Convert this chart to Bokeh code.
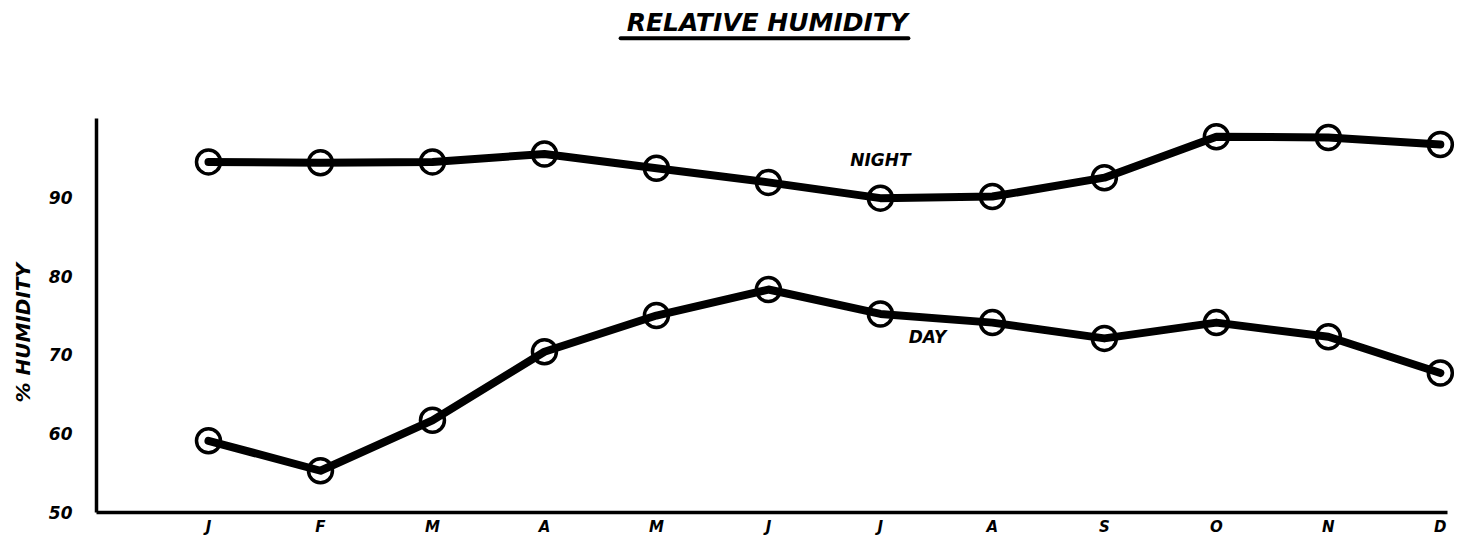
from bokeh.plotting import figure
from bokeh.models import FixedTicker, Label, Title, Range1d
from bokeh.embed import file_html
from bokeh.resources import INLINE

# ---- data ----
month_labels = ["J", "F", "M", "A", "M", "J", "J", "A", "S", "O", "N", "D"]
month_pos = [1, 2, 3, 4, 5, 6, 7, 8, 9, 10, 11, 12]
night = [94.5, 94.4, 94.5, 95.5, 93.7, 91.9, 89.9, 90.1, 92.5, 97.7, 97.6, 96.7]
day = [59.1, 55.3, 61.7, 70.4, 75.0, 78.3, 75.2, 74.1, 72.1, 74.1, 72.3, 67.7]
y_ticks = [50, 60, 70, 80, 90]

FONT = "DejaVu Sans"

p = figure(width=1468, height=538, output_backend="svg", toolbar_location=None,
           x_range=Range1d(0, 12.18), y_range=Range1d(50, 113.97),
           min_border_left=96, min_border_right=8, min_border_top=8,
           min_border_bottom=23)
p.outline_line_color = None
p.grid.visible = False
p.background_fill_color = "white"
p.border_fill_color = "white"

# x axis
xa = p.xaxis[0]
xa.ticker = FixedTicker(ticks=month_pos)
xa.major_label_overrides = {m: lab for m, lab in zip(month_pos, month_labels)}
xa.major_tick_line_color = None
xa.minor_tick_line_color = None
xa.major_tick_out = 0
xa.major_tick_in = 0
xa.major_label_standoff = 5
xa.axis_line_width = 3.5
xa.axis_line_color = "black"
xa.bounds = (0, 12.06)
xa.major_label_text_font = FONT
xa.major_label_text_font_style = "bold italic"
xa.major_label_text_font_size = "15px"
xa.major_label_text_color = "black"

# y axis
ya = p.yaxis[0]
ya.ticker = FixedTicker(ticks=y_ticks)
ya.major_tick_line_color = None
ya.minor_tick_line_color = None
ya.major_tick_out = 0
ya.major_tick_in = 0
ya.major_label_standoff = 24
ya.axis_line_width = 3.5
ya.axis_line_color = "black"
ya.bounds = (50, 100)
ya.major_label_text_font = FONT
ya.major_label_text_font_style = "bold italic"
ya.major_label_text_font_size = "17px"
ya.major_label_text_color = "black"

# y label as a side title
ylab = Title(text="% HUMIDITY", align="left", vertical_align="top", offset=110,
             standoff=18, text_font=FONT, text_font_style="bold italic",
             text_font_size="20px", text_color="black")
p.add_layout(ylab, "left")

# series
for vals in (night, day):
    p.line(month_pos, vals, line_width=8, line_color="black",
           line_join="round", line_cap="round")
    p.scatter(month_pos, vals, size=24, marker="circle", fill_alpha=0,
              line_color="black", line_width=3.5)

# labels
p.add_layout(Label(x=7.0, y=94.8, text="NIGHT", text_align="center",
                   text_baseline="middle", text_font=FONT,
                   text_font_style="bold italic", text_font_size="17px",
                   text_color="black"))
p.add_layout(Label(x=7.42, y=72.3, text="DAY", text_align="center",
                   text_baseline="middle", text_font=FONT,
                   text_font_style="bold italic", text_font_size="17px",
                   text_color="black"))

# chart title with underline
p.add_layout(Label(x=5.99, y=112.2, text="RELATIVE HUMIDITY", text_align="center",
                   text_baseline="middle", text_font=FONT,
                   text_font_style="bold italic", text_font_size="25px",
                   text_color="black"))
p.line([4.68, 7.25], [110.2, 110.2], line_width=4, line_color="black",
       line_cap="round")

open("out.html", "w").write(file_html(p, INLINE))
